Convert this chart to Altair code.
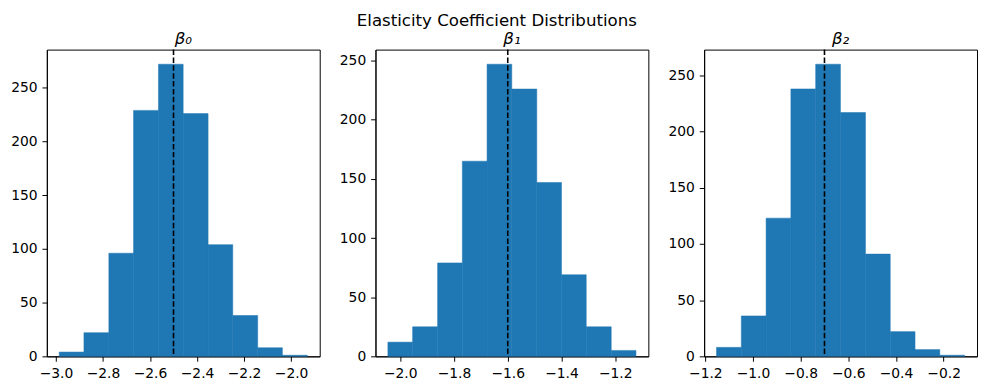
import altair as alt
import pandas as pd

# ---- data ----
panel_titles = ["β₀", "β₁", "β₂"]

edges_b0 = [-2.986, -2.881, -2.775, -2.670, -2.564, -2.459, -2.353, -2.248, -2.142, -2.037, -1.931]
counts_b0 = [4, 22, 96, 229, 272, 226, 104, 38, 8, 1]

edges_b1 = [-2.046, -1.954, -1.861, -1.769, -1.677, -1.585, -1.492, -1.400, -1.308, -1.215, -1.123]
counts_b1 = [12, 25, 79, 165, 247, 226, 147, 69, 25, 5]

edges_b2 = [-1.153, -1.049, -0.945, -0.841, -0.737, -0.633, -0.528, -0.424, -0.320, -0.216, -0.112]
counts_b2 = [8, 36, 123, 238, 260, 217, 91, 22, 6, 1]

true_values = [-2.5, -1.6, -0.7]

x_ticks_b0 = [-3.0, -2.8, -2.6, -2.4, -2.2, -2.0]
x_ticks_b1 = [-2.0, -1.8, -1.6, -1.4, -1.2]
x_ticks_b2 = [-1.2, -1.0, -0.8, -0.6, -0.4, -0.2]
y_ticks = [0, 50, 100, 150, 200, 250]

edges = [edges_b0, edges_b1, edges_b2]
counts = [counts_b0, counts_b1, counts_b2]
x_ticks = [x_ticks_b0, x_ticks_b1, x_ticks_b2]

FONT = "DejaVu Sans"
BLUE = "#1f77b4"


def x_domain(e):
    w = e[-1] - e[0]
    return [e[0] - 0.05 * w, e[-1] + 0.05 * w]


def panel(i):
    e = edges[i]
    df = pd.DataFrame({"lo": e[:-1], "hi": e[1:], "count": counts[i]})
    ymax = max(counts[i]) * 1.05
    bars = alt.Chart(df).mark_rect(color=BLUE, stroke=BLUE, strokeWidth=0.5).encode(
        x=alt.X("lo:Q",
                scale=alt.Scale(domain=x_domain(e), nice=False, zero=False),
                axis=alt.Axis(values=x_ticks[i], format=".1f", title=None)),
        x2="hi:Q",
        y=alt.Y("count:Q",
                scale=alt.Scale(domain=[0, ymax], nice=False, zero=True),
                axis=alt.Axis(values=y_ticks, format="d", title=None)),
        y2=alt.datum(0),
    )
    rule = alt.Chart(pd.DataFrame({"v": [true_values[i]]})).mark_rule(
        color="black", strokeDash=[5.5, 2.4], strokeWidth=1.6
    ).encode(x="v:Q")
    return alt.layer(bars, rule).properties(
        width=274, height=308,
        title=alt.TitleParams(panel_titles[i], font=FONT, fontSize=16.67,
                              fontStyle="italic",
                              fontWeight="normal", color="black",
                              baseline="alphabetic", offset=-12,
                              anchor="middle", frame="group"),
    )


chart = alt.hconcat(*[panel(i) for i in range(3)], spacing=18).properties(
    title=alt.TitleParams("Elasticity Coefficient Distributions", font=FONT,
                          fontSize=16.67, fontWeight="normal", color="black",
                          baseline="alphabetic", offset=-12, anchor="middle",
                          dx=3),
    padding={"left": 2, "top": 4, "right": 0, "bottom": 0},
).configure_view(stroke="black", strokeWidth=1).configure_axis(
    grid=False, domainColor="black", domainWidth=1, tickColor="black",
    tickSize=4.9, tickWidth=1, labelPadding=4.9, labelFont=FONT,
    labelFontSize=13.9, labelColor="black", labelFlush=False,
)

chart.save("out.html", embed_options={"renderer": "svg", "actions": False})
